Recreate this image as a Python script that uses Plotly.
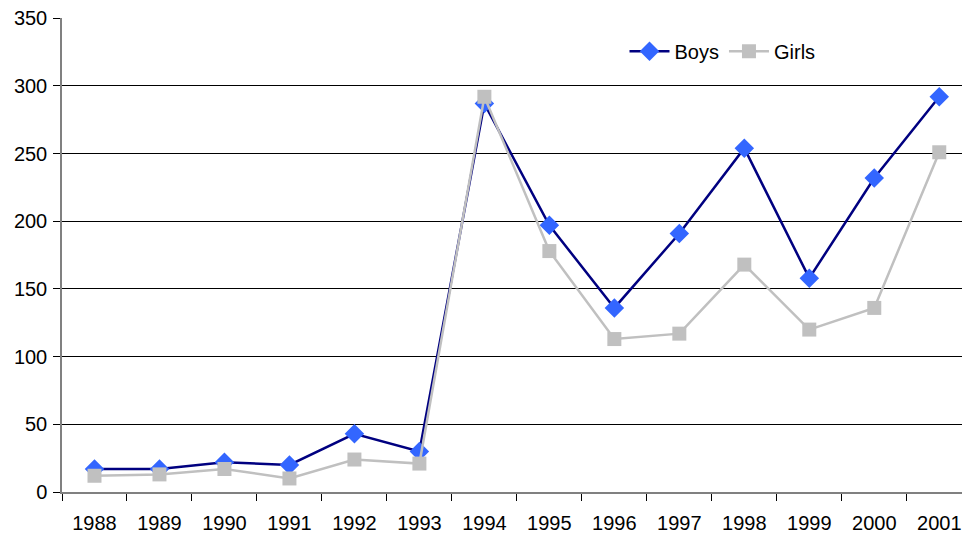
import plotly.graph_objects as go

# Data
years = ["1988", "1989", "1990", "1991", "1992", "1993", "1994",
         "1995", "1996", "1997", "1998", "1999", "2000", "2001"]
boys = [17, 17, 22, 20, 43, 30, 287, 197, 136, 191, 254, 158, 232, 292]
girls = [12, 13, 17, 10, 24, 21, 292, 178, 113, 117, 168, 120, 136, 251]
y_ticks = [0, 50, 100, 150, 200, 250, 300, 350]

fig = go.Figure()

fig.add_trace(go.Scatter(x=years, y=boys, name="Boys", mode="lines+markers",
                         line=dict(color="#000080", width=2.5),
                         marker=dict(symbol="diamond", size=15, color="#3366FF",
                                     line=dict(width=0))))

fig.add_trace(go.Scatter(x=years, y=girls, name="Girls", mode="lines+markers",
                         line=dict(color="#C0C0C0", width=2.5),
                         marker=dict(symbol="square", size=14, color="#C0C0C0",
                                     line=dict(width=0))))

fig.update_layout(
    width=962, height=535,
    margin=dict(l=62, r=0, t=18, b=43, autoexpand=False),
    paper_bgcolor="white", plot_bgcolor="white",
    font=dict(family="Liberation Sans, Arial, sans-serif", size=20, color="black"),
    legend=dict(orientation="h", x=0.625, y=0.93, xanchor="left", yanchor="middle",
                bgcolor="rgba(0,0,0,0)", font=dict(size=20), itemwidth=40),
)

fig.update_xaxes(type="category", range=[-0.5, 13.35], tickson="boundaries",
                 ticks="outside", ticklen=7, tickcolor="black", tickwidth=1,
                 showgrid=False, showline=True, linecolor="#808080", linewidth=1.5,
                 ticklabelstandoff=12, ticklabeloverflow="allow", automargin=False)

fig.update_yaxes(range=[0, 350.2], tickmode="array", tickvals=y_ticks,
                 ticks="outside", ticklen=7,
                 tickcolor="black", showgrid=True, gridcolor="black", gridwidth=1,
                 zeroline=False, showline=True, linecolor="#808080", linewidth=1.5,
                 ticklabelstandoff=2, ticklabeloverflow="allow", automargin=False)

# drop the default 8px page margin so the figure fills the window exactly
fig.write_html("out.html", config={"displayModeBar": False},
               post_script="document.body.style.margin = '0';")
